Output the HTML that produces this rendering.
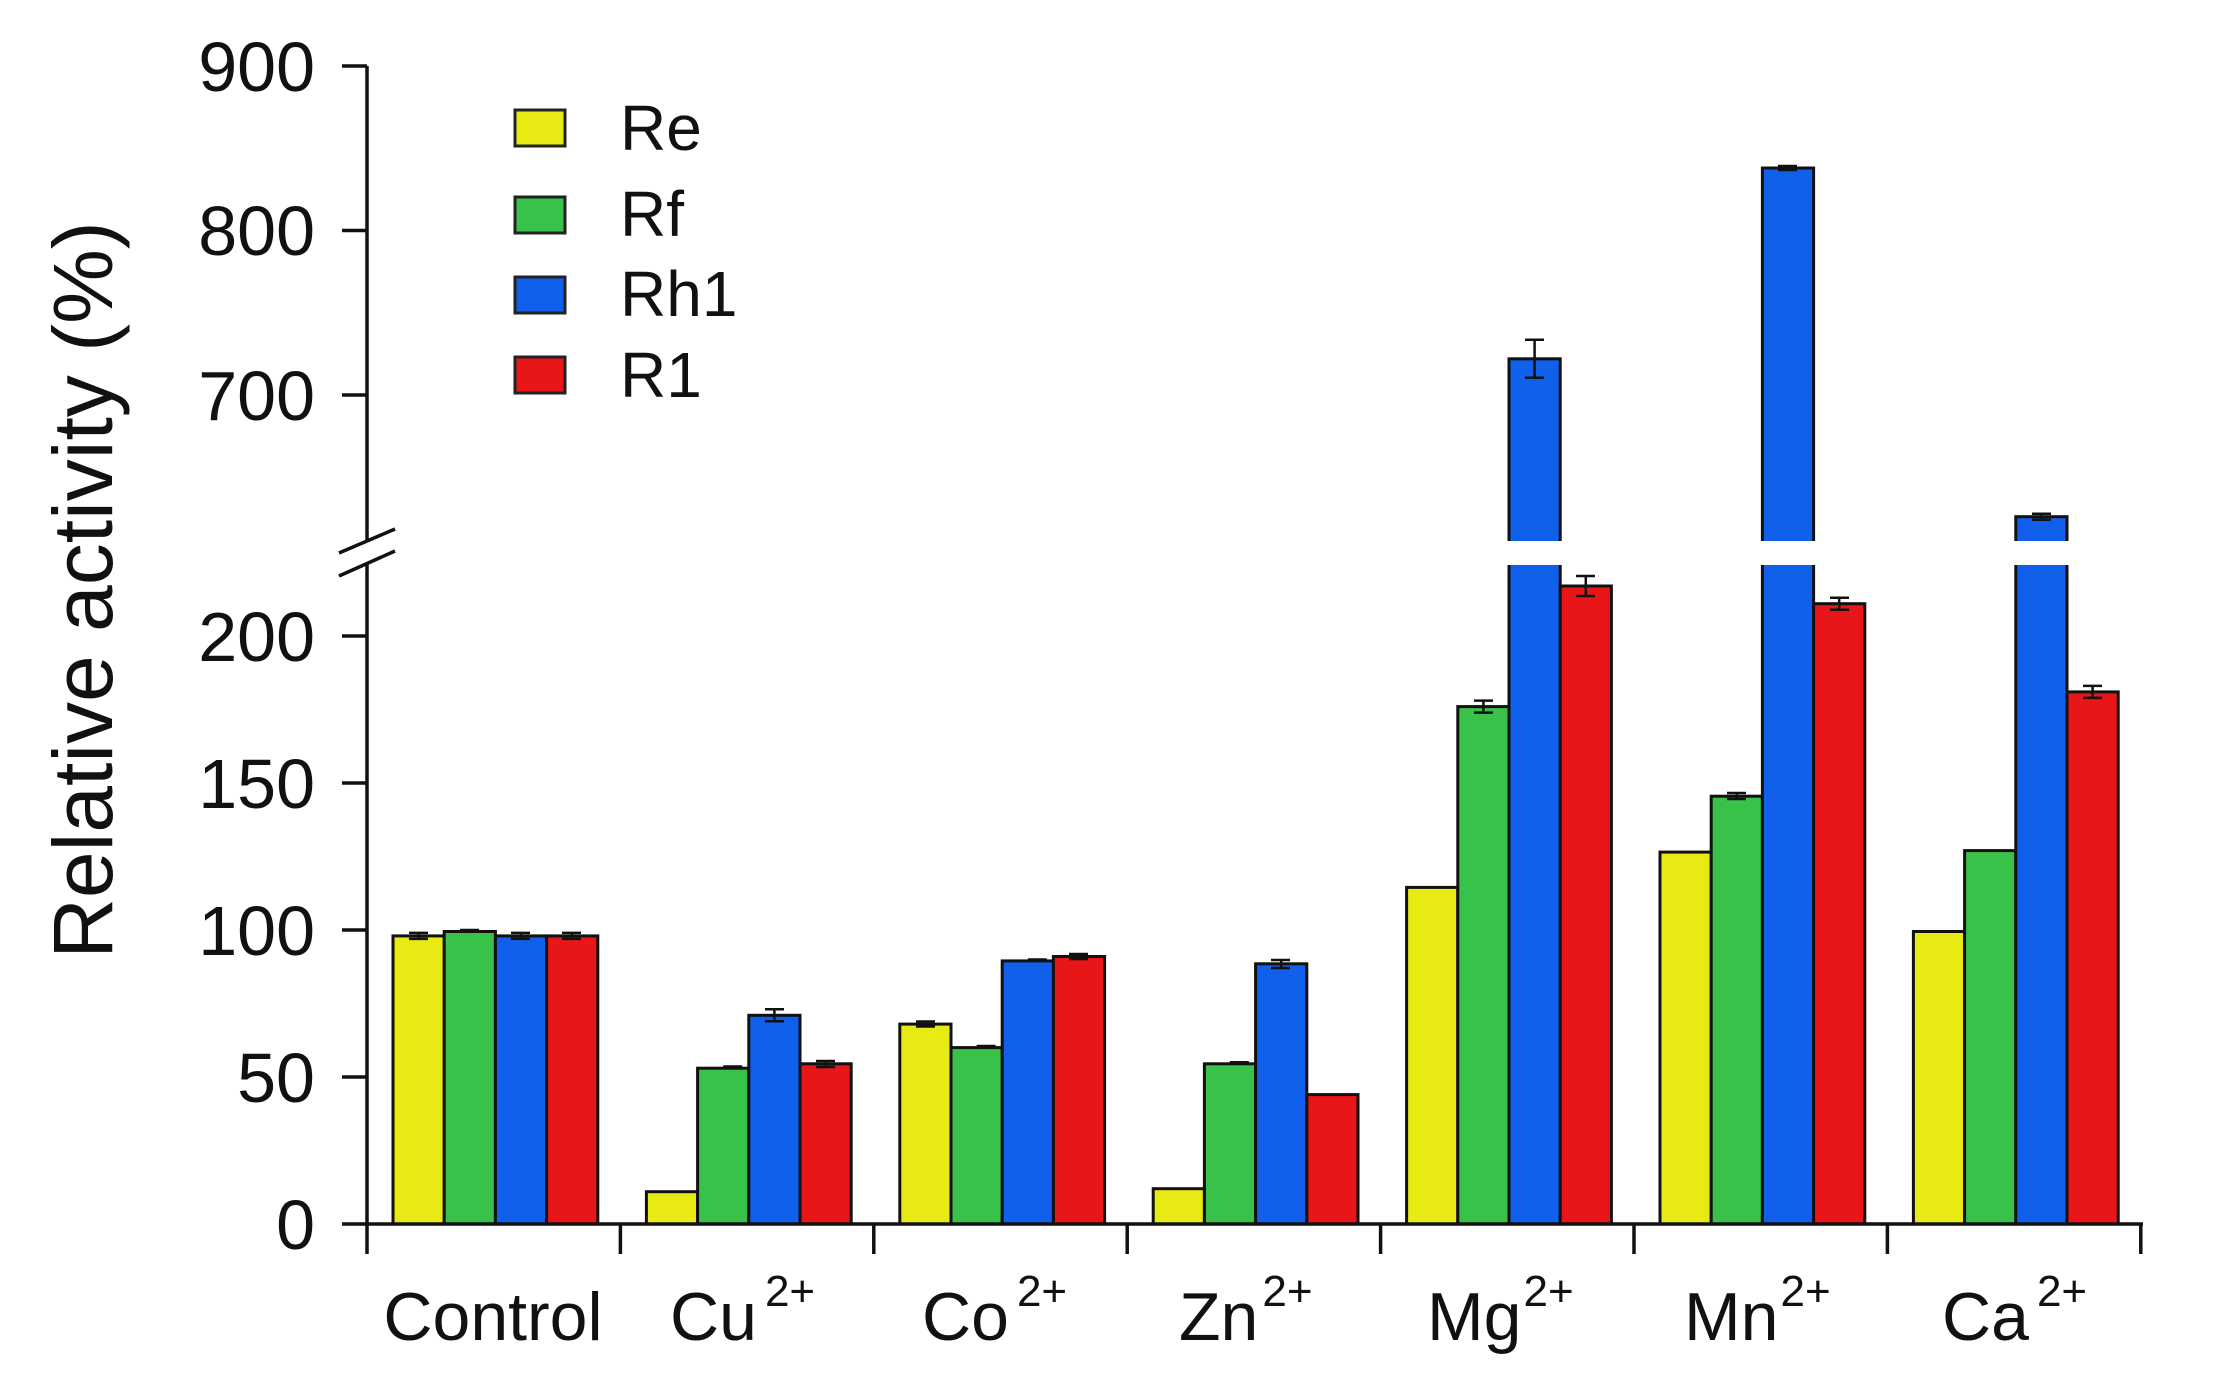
<!DOCTYPE html>
<html><head><meta charset="utf-8"><style>html,body{margin:0;padding:0;background:#fff}svg{display:block}</style></head>
<body>
<svg width="2226" height="1391" viewBox="0 0 2226 1391" xmlns="http://www.w3.org/2000/svg" font-family="Liberation Sans, Arial, sans-serif">
<rect width="2226" height="1391" fill="#fff"/>
<g stroke="#111" stroke-width="3">
<!-- Control -->
<rect x="393" y="935.9" width="51.2" height="288.1" fill="#e8ea13"/>
<rect x="444.2" y="931.5" width="51.2" height="292.5" fill="#38c24a"/>
<rect x="495.4" y="935.9" width="51.2" height="288.1" fill="#1060ec"/>
<rect x="546.6" y="935.9" width="51.2" height="288.1" fill="#e81618"/>
<!-- Cu -->
<rect x="646.4" y="1191.7" width="51.2" height="32.3" fill="#e8ea13"/>
<rect x="697.6" y="1068.2" width="51.2" height="155.8" fill="#38c24a"/>
<rect x="748.8" y="1015.3" width="51.2" height="208.7" fill="#1060ec"/>
<rect x="800" y="1063.8" width="51.2" height="160.2" fill="#e81618"/>
<!-- Co -->
<rect x="899.8" y="1024.1" width="51.2" height="199.9" fill="#e8ea13"/>
<rect x="951" y="1047.6" width="51.2" height="176.4" fill="#38c24a"/>
<rect x="1002.2" y="960.9" width="51.2" height="263.1" fill="#1060ec"/>
<rect x="1053.4" y="956.5" width="51.2" height="267.5" fill="#e81618"/>
<!-- Zn -->
<rect x="1153.2" y="1188.7" width="51.2" height="35.3" fill="#e8ea13"/>
<rect x="1204.4" y="1063.8" width="51.2" height="160.2" fill="#38c24a"/>
<rect x="1255.6" y="963.8" width="51.2" height="260.2" fill="#1060ec"/>
<rect x="1306.8" y="1094.6" width="51.2" height="129.4" fill="#e81618"/>
<!-- Mg -->
<rect x="1406.6" y="887.4" width="51.2" height="336.6" fill="#e8ea13"/>
<rect x="1457.8" y="706.6" width="51.2" height="517.4" fill="#38c24a"/>
<rect x="1509" y="358.8" width="51.2" height="865.2" fill="#1060ec"/>
<rect x="1560.2" y="586" width="51.2" height="638" fill="#e81618"/>
<!-- Mn -->
<rect x="1660" y="852.1" width="51.2" height="371.9" fill="#e8ea13"/>
<rect x="1711.2" y="796.2" width="51.2" height="427.8" fill="#38c24a"/>
<rect x="1762.4" y="168" width="51.2" height="1056" fill="#1060ec"/>
<rect x="1813.6" y="603.7" width="51.2" height="620.3" fill="#e81618"/>
<!-- Ca -->
<rect x="1913.4" y="931.5" width="51.2" height="292.5" fill="#e8ea13"/>
<rect x="1964.6" y="850.6" width="51.2" height="373.4" fill="#38c24a"/>
<rect x="2015.8" y="516.7" width="51.2" height="707.3" fill="#1060ec"/>
<rect x="2067" y="691.9" width="51.2" height="532.1" fill="#e81618"/>
</g>
<!-- break gaps in bars -->
<g fill="#fff">
<rect x="1505" y="541" width="60" height="24"/>
<rect x="1758" y="541" width="60" height="24"/>
<rect x="2011" y="541" width="60" height="24"/>
</g>
<!-- error bars -->
<g stroke="#111" stroke-width="2.5" fill="none">
<path d="M418.6 932.9v6M409 932.9h19M409 938.9h19"/>
<path d="M469.8 930v3M460 930h19"/>
<path d="M521 932.9v6M511 932.9h19M511 938.9h19"/>
<path d="M572.2 932.9v6M562 932.9h19M562 938.9h19"/>
<path d="M723.2 1066.5h19"/>
<path d="M774.4 1009.3v12M765 1009.3h19M765 1021.3h19"/>
<path d="M825.6 1061v6M816 1061h19M816 1067h19"/>
<path d="M925.4 1021.5v5M916 1021.5h19M916 1026.5h19"/>
<path d="M976.6 1046h19"/>
<path d="M1027.8 959.5h19"/>
<path d="M1079 954v5M1069 954h19M1069 959h19"/>
<path d="M1229.8 1062.3h19"/>
<path d="M1281.2 960v8M1271 960h19M1271 968h19"/>
<path d="M1483.4 700.6v12M1474 700.6h19M1474 712.6h19"/>
<path d="M1534.6 339.8v38M1525 339.8h19M1525 377.8h19"/>
<path d="M1585.8 576v20M1576 576h19M1576 596h19"/>
<path d="M1736.8 793v6M1727 793h19M1727 799h19"/>
<path d="M1788 166v4M1778 166h19M1778 170h19"/>
<path d="M1839.2 597.7v12M1830 597.7h19M1830 609.7h19"/>
<path d="M2041.4 513.7v6M2032 513.7h19M2032 519.7h19"/>
<path d="M2092.6 685.9v12M2083 685.9h19M2083 697.9h19"/>
</g>
<!-- axes -->
<g stroke="#111" stroke-width="3.5" fill="none">
<path d="M367 66V541M367 563V1224"/>
<path d="M339 553L395 529M339 576L395 551"/>
<path d="M342 66h25M342 230.5h25M342 395h25"/>
<path d="M342 636h25M342 783h25M342 930h25M342 1077h25M342 1224h25"/>
<path d="M367 1224H2143"/>
<path d="M367 1224v30M620.4 1224v30M873.8 1224v30M1127.2 1224v30M1380.6 1224v30M1634 1224v30M1887.4 1224v30M2140.8 1224v30"/>
</g>
<!-- y tick labels -->
<g font-size="70" fill="#111" text-anchor="end">
<text x="315" y="91">900</text>
<text x="315" y="255">800</text>
<text x="315" y="420">700</text>
<text x="315" y="661">200</text>
<text x="315" y="808">150</text>
<text x="315" y="955">100</text>
<text x="315" y="1102">50</text>
<text x="315" y="1249">0</text>
</g>
<text transform="translate(112,590) rotate(-90)" text-anchor="middle" font-size="84" fill="#111">Relative activity (%)</text>
<!-- x labels -->
<g font-size="68" fill="#111">
<text x="493" y="1340" text-anchor="middle">Control</text>
<text x="670" y="1340">Cu<tspan font-size="44" dy="-34" dx="8">2+</tspan></text>
<text x="922" y="1340">Co<tspan font-size="44" dy="-34" dx="8">2+</tspan></text>
<text x="1179" y="1340">Zn<tspan font-size="44" dy="-34" dx="4">2+</tspan></text>
<text x="1427" y="1340">Mg<tspan font-size="44" dy="-34" dx="2">2+</tspan></text>
<text x="1684" y="1340">Mn<tspan font-size="44" dy="-34" dx="2">2+</tspan></text>
<text x="1942" y="1340">Ca<tspan font-size="44" dy="-34" dx="8">2+</tspan></text>
</g>
<!-- legend -->
<g stroke="#222" stroke-width="3">
<rect x="515" y="110" width="50" height="36" fill="#e8ea13"/>
<rect x="515" y="197" width="50" height="36" fill="#38c24a"/>
<rect x="515" y="277" width="50" height="36" fill="#1060ec"/>
<rect x="515" y="357" width="50" height="36" fill="#e81618"/>
</g>
<g font-size="64" fill="#111">
<text x="620" y="150">Re</text>
<text x="620" y="236">Rf</text>
<text x="620" y="316">Rh1</text>
<text x="620" y="397">R1</text>
</g>
</svg>
</body></html>
